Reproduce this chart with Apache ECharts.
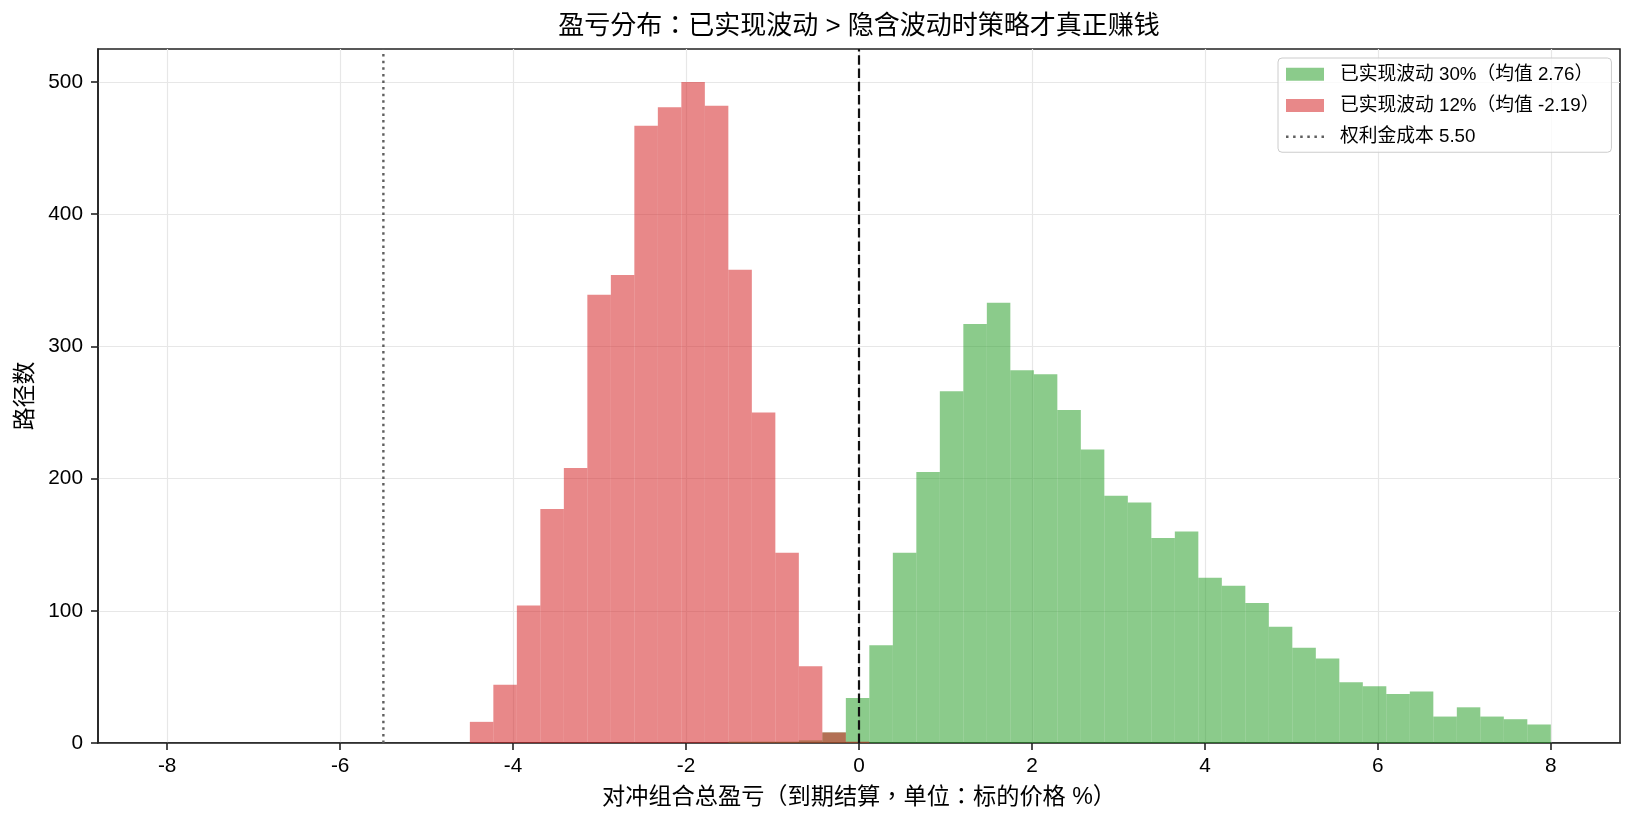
<!DOCTYPE html>
<html><head><meta charset="utf-8">
<script src="https://cdn.jsdelivr.net/npm/echarts@6/dist/echarts.min.js"></script>
<style>html,body{margin:0;padding:0;background:#fff}#c{width:1634px;height:825px}</style>
</head><body><div id="c"></div>
<script>
// ---- data ----
const binLo = -4.5, binHi = 8.0, binCount = 46;
const greenCounts = [0,0,0,0,0,0,0,0,0,0,0, 1,1,1,2,8,
  34,74,144,205,266,317,333,282,279,252,222,187,182,155,160,125,119,106,88,72,64,46,43,37,39,20,27,20,18,14];
const redCounts = [16,44,104,177,208,339,354,467,481,500,482,358,250,144,58,8,1,
  0,0,0,0,0,0,0,0,0,0,0,0,0,0,0,0,0,0,0,0,0,0,0,0,0,0,0,0,0];
const seriesNames = ['已实现波动 30%（均值 2.76）', '已实现波动 12%（均值 -2.19）', '权利金成本 5.50'];
const costLineX = [-5.5];
const zeroLineX = [0];
const xTicks = [-8,-6,-4,-2,0,2,4,6,8];
const yTicks = [0,100,200,300,400,500];
const titleText = '盈亏分布：已实现波动 > 隐含波动时策略才真正赚钱';
const xName = '对冲组合总盈亏（到期结算，单位：标的价格 %）';
const yName = '路径数';

const FF = "'Liberation Sans', Arial, 'Noto Sans CJK TC', 'Noto Sans CJK SC', sans-serif";
const GREEN = 'rgba(44,160,44,0.55)';
const RED = 'rgba(214,39,40,0.55)';

const binW = (binHi - binLo) / binCount;
function toBars(counts) {
  const out = [];
  counts.forEach((c, k) => { if (c > 0) out.push([binLo + k * binW, binLo + (k + 1) * binW, c]); });
  return out;
}
function barRender(color) {
  return function (params, api) {
    const p0 = api.coord([api.value(0), api.value(2)]);
    const p1 = api.coord([api.value(1), 0]);
    return { type: 'rect', shape: { x: p0[0], y: p0[1], width: p1[0] - p0[0], height: p1[1] - p0[1] },
      style: { fill: color } };
  };
}
function vlineRender(stroke, width, dash) {
  return function (params, api) {
    const cs = params.coordSys;
    const p = api.coord([api.value(0), 0]);
    return { type: 'line', shape: { x1: p[0], y1: cs.y + cs.height, x2: p[0], y2: cs.y },
      style: { stroke: stroke, lineWidth: width, lineDash: dash } };
  };
}
let dots = '';
for (let i = 0; i < 6; i++) { const x = i * 7.1; dots += 'M' + x + ',0h2.5v2.5h-2.5Z'; }
const dotIcon = 'path://' + dots;

const chart = echarts.init(document.getElementById('c'), null, { renderer: 'canvas' });
chart.setOption({
  animation: false,
  backgroundColor: '#fff',
  title: { text: titleText, left: 859, top: 14, textAlign: 'center', padding: 0,
    textStyle: { fontFamily: FF, fontSize: 26, fontWeight: 'normal', color: '#000' } },
  grid: { left: 98, right: 14, top: 49, bottom: 82, show: true, borderColor: '#222', borderWidth: 1.6,
    containLabel: false, outerBoundsMode: 'none' },
  legend: {
    orient: 'vertical', left: 1278, top: 58, padding: [7, 12, 6, 8],
    itemWidth: 38, itemHeight: 13, itemGap: 12.5,
    backgroundColor: 'rgba(255,255,255,0.8)', borderColor: '#cccccc', borderWidth: 1, borderRadius: 4,
    textStyle: { fontFamily: FF, fontSize: 18.75, color: '#000', padding: [0, 0, 0, 11] },
    data: [{ name: seriesNames[0], icon: 'rect' }, { name: seriesNames[1], icon: 'rect' },
      { name: seriesNames[2], icon: dotIcon }]
  },
  xAxis: {
    type: 'value', min: -8.8, max: 8.8,
    name: xName, nameLocation: 'middle', nameGap: 43,
    nameTextStyle: { fontFamily: FF, fontSize: 23.2, color: '#000' },
    axisLine: { show: true, onZero: false, lineStyle: { color: '#222', width: 1.6 } },
    axisTick: { show: true, length: 7, lineStyle: { color: '#222', width: 1.6 }, customValues: xTicks },
    axisLabel: { fontFamily: FF, fontSize: 20.8, color: '#000', margin: 13, customValues: xTicks },
    splitLine: { show: true, lineStyle: { color: '#e7e7e7', width: 1.2 } }
  },
  yAxis: {
    type: 'value', min: 0, max: 525,
    name: yName, nameLocation: 'middle', nameGap: 54,
    nameTextStyle: { fontFamily: FF, fontSize: 22.9, color: '#000' },
    axisLine: { show: true, onZero: false, lineStyle: { color: '#222', width: 1.6 } },
    axisTick: { show: true, length: 7, lineStyle: { color: '#222', width: 1.6 }, customValues: yTicks },
    axisLabel: { fontFamily: FF, fontSize: 20.8, color: '#000', margin: 15, customValues: yTicks },
    splitLine: { show: true, lineStyle: { color: '#e7e7e7', width: 1.2 } }
  },
  series: [
    { name: seriesNames[0], type: 'custom', renderItem: barRender(GREEN), itemStyle: { color: GREEN },
      encode: { x: [0, 1], y: 2 }, data: toBars(greenCounts), z: 2 },
    { name: seriesNames[1], type: 'custom', renderItem: barRender(RED), itemStyle: { color: RED },
      encode: { x: [0, 1], y: 2 }, data: toBars(redCounts), z: 3 },
    { name: seriesNames[2], type: 'custom', renderItem: vlineRender('#5f5f5f', 2.4, [2.5, 4.1]),
      itemStyle: { color: '#5f5f5f' }, encode: { x: 0 }, data: costLineX.map(v => [v]), z: 4 },
    { name: 'zero', type: 'custom', renderItem: vlineRender('#111', 2.2, [9.5, 3.8]),
      itemStyle: { color: '#111' }, encode: { x: 0 }, data: zeroLineX.map(v => [v]), z: 5 }
  ]
});
</script></body></html>
